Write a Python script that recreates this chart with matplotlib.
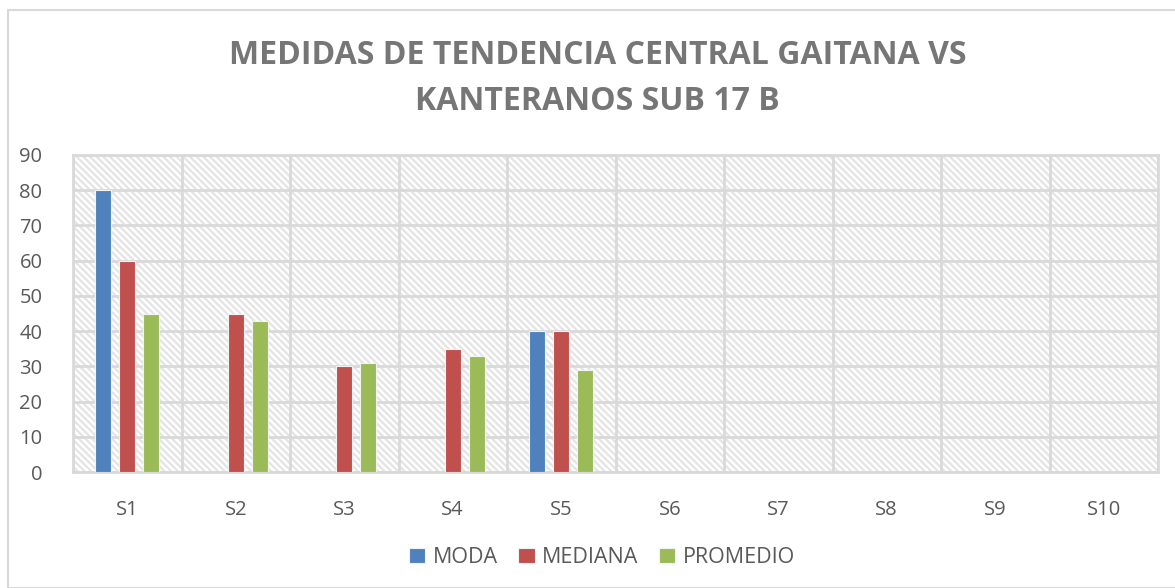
import matplotlib
matplotlib.use("Agg")
import matplotlib.pyplot as plt
from matplotlib.patches import Rectangle
import numpy as np

categories = ["S1", "S2", "S3", "S4", "S5", "S6", "S7", "S8", "S9", "S10"]
moda = [80, np.nan, np.nan, np.nan, 40, np.nan, np.nan, np.nan, np.nan, np.nan]
mediana = [60, 45, 30, 35, 40, np.nan, np.nan, np.nan, np.nan, np.nan]
promedio = [45, 43, 31, 33, 29, np.nan, np.nan, np.nan, np.nan, np.nan]
series = [("MODA", moda, "#4F81BD"), ("MEDIANA", mediana, "#C0504D"), ("PROMEDIO", promedio, "#9BBB59")]

plt.rcParams["font.family"] = ["Open Sans", "DejaVu Sans"]
plt.rcParams["hatch.linewidth"] = 1.6
plt.rcParams["hatch.color"] = "#e4e4e4"

W, H = 1175, 588
fig = plt.figure(figsize=(W / 100, H / 100), dpi=100)
fig.patches.append(Rectangle((8 / W, 0), 1.2, 1 - 10 / H, transform=fig.transFigure,
                             facecolor="none", edgecolor="#d9d9d9", linewidth=1.5))
ax = fig.add_axes([73 / W, 1 - 472 / H, (1158 - 73) / W, (472 - 155) / H])

bg = Rectangle((0, 0), 1, 1, transform=ax.transAxes, facecolor="white",
               edgecolor="#e4e4e4", hatch="\\\\\\\\\\", linewidth=0, zorder=0)
ax.add_patch(bg)
ax.set_facecolor("white")

x = np.arange(len(categories))
bw = 0.148
step = 0.221
for i, (name, vals, col) in enumerate(series):
    ax.bar(x + (i - 1) * step, vals, width=bw, color=col, edgecolor="#f2f2f2",
           linewidth=0.8, label=name, zorder=3)

ax.set_xlim(-0.5, len(categories) - 0.5)
ax.set_ylim(0, 90)
ax.set_yticks(range(0, 91, 10))
ax.set_xticks(x)
ax.set_xticklabels(categories)
ax.set_xticks(np.arange(-0.5, len(categories), 1), minor=True)
ax.grid(axis="y", color="#d9d9d9", linewidth=2, zorder=1)
ax.grid(axis="x", which="minor", color="#d9d9d9", linewidth=2, zorder=1)
ax.tick_params(axis="both", which="both", length=0, labelsize=14.5, colors="#595959")
ax.tick_params(axis="x", pad=20)
ax.tick_params(axis="y", pad=22)
for s in ax.spines.values():
    s.set_color("#d9d9d9")
    s.set_linewidth(2)

fig.text(598 / W, 1 - 55 / H, "MEDIDAS DE TENDENCIA CENTRAL GAITANA VS", ha="center", va="center",
         fontsize=23, fontweight="bold", color="#767676")
fig.text(597 / W, 1 - 101 / H, "KANTERANOS SUB 17 B", ha="center", va="center",
         fontsize=23, fontweight="bold", color="#767676")

ax.legend(loc="center", bbox_to_anchor=((602 - 73) / (1158 - 73), -0.27), ncol=3, frameon=False,
          fontsize=15.5, handlelength=0.75, handleheight=0.75, handletextpad=0.35,
          columnspacing=0.95, labelcolor="#595959")

fig.savefig("out.png", dpi=100)
